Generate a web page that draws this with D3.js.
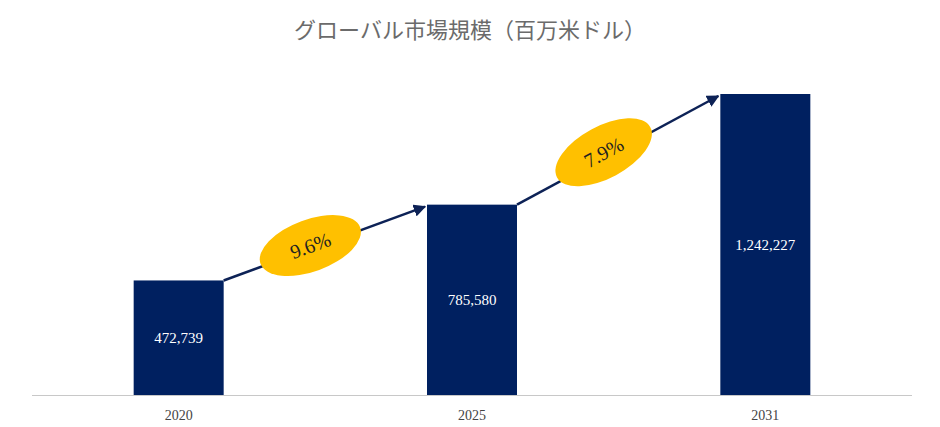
<!DOCTYPE html>
<html><head><meta charset="utf-8">
<script src="https://cdn.jsdelivr.net/npm/d3@7"></script>
<style>body{margin:0;background:#fff}</style>
</head><body>
<script>
const years = ["2020", "2025", "2031"];
const values = [472739, 785580, 1242227];
const cagrs = ["9.6%", "7.9%"];

const W = 940, H = 427, base = 395;
const svg = d3.select("body").append("svg").attr("width", W).attr("height", H);
const x = d3.scaleBand().domain(years).range([32, 912]);
const y = d3.scaleLinear().domain([0, 1242227]).range([base, 94]);
const bw = 90;
const cx = d => x(d) + x.bandwidth() / 2;
const serif = "'Liberation Serif','DejaVu Serif',serif";

svg.append("text").attr("x", 470).attr("y", 38).attr("text-anchor", "middle")
  .attr("font-family", "'Noto Sans CJK JP',sans-serif").attr("font-size", 22)
  .attr("fill", "#6b6b6b").text("グローバル市場規模（百万米ドル）");

svg.append("defs").append("marker").attr("id", "ah").attr("viewBox", "0 0 10 10")
  .attr("refX", 9).attr("refY", 5).attr("markerWidth", 5).attr("markerHeight", 5)
  .attr("orient", "auto").append("path").attr("d", "M0,0L10,5L0,10z").attr("fill", "#0d2256");

svg.selectAll("rect.bar").data(years).join("rect").attr("class", "bar")
  .attr("x", d => cx(d) - bw / 2).attr("width", bw)
  .attr("y", (d, i) => y(values[i])).attr("height", (d, i) => base - y(values[i]))
  .attr("fill", "#002060");

svg.append("line").attr("x1", 32).attr("x2", 912).attr("y1", base + 0.5).attr("y2", base + 0.5)
  .attr("stroke", "#c8c8c8");

svg.selectAll("text.val").data(years).join("text").attr("class", "val")
  .attr("x", d => cx(d)).attr("y", (d, i) => (y(values[i]) + base) / 2 + 5)
  .attr("text-anchor", "middle").attr("fill", "#fff").attr("font-family", serif).attr("font-size", 15)
  .text((d, i) => d3.format(",")(values[i]));

svg.selectAll("text.yr").data(years).join("text").attr("class", "yr")
  .attr("x", d => cx(d)).attr("y", 420).attr("text-anchor", "middle")
  .attr("fill", "#444").attr("font-family", serif).attr("font-size", 14).text(d => d);

cagrs.forEach((c, i) => {
  const x1 = cx(years[i]) + bw / 2, y1 = y(values[i]);
  const x2 = cx(years[i + 1]) - bw / 2 - 2, y2 = y(values[i + 1]) + 2;
  svg.append("line").attr("x1", x1).attr("y1", y1).attr("x2", x2).attr("y2", y2)
    .attr("stroke", "#0d2256").attr("stroke-width", 2.5).attr("marker-end", "url(#ah)");
  const mx = (x1 + x2) / 2 - 14, my = (y1 + y2) / 2 + 2;
  const ang = Math.atan2(y2 - y1, x2 - x1) * 180 / Math.PI;
  const g = svg.append("g").attr("transform", `translate(${mx},${my}) rotate(${ang})`);
  g.append("ellipse").attr("rx", 53).attr("ry", 26).attr("fill", "#FFC000");
  g.append("text").attr("y", 7).attr("text-anchor", "middle").attr("font-family", serif)
    .attr("font-size", 20).attr("fill", "#222").text(c);
});
</script>
</body></html>
